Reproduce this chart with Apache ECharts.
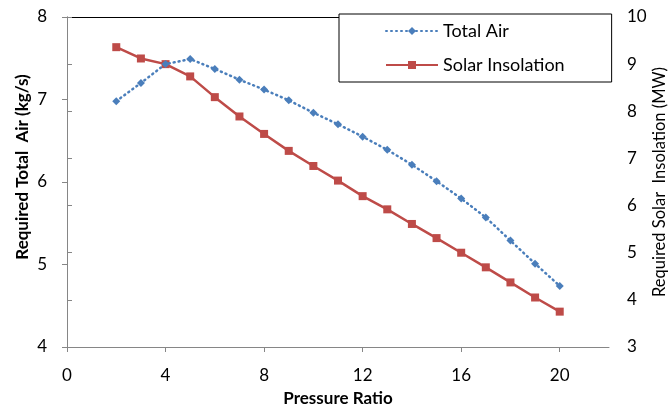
<!DOCTYPE html>
<html>
<head>
<meta charset="utf-8">
<script src="https://cdn.jsdelivr.net/npm/echarts@6/dist/echarts.min.js"></script>
<style>
html, body { margin: 0; padding: 0; background: #fff; }
#chart { width: 672px; height: 413px; }
</style>
</head>
<body>
<div id="chart"></div>
<script>
// pressure ratio on the x axis
const pressureRatio = [2, 3, 4, 5, 6, 7, 8, 9, 10, 11, 12, 13, 14, 15, 16, 17, 18, 19, 20]
// required total air, kg/s (left axis)
const totalAir = [6.98, 7.20, 7.43, 7.49, 7.37, 7.24, 7.12, 6.99, 6.84, 6.70, 6.55, 6.39, 6.21, 6.01, 5.80, 5.57, 5.29, 5.01, 4.74]
// required solar insolation, MW (right axis)
const solarInsolation = [9.36, 9.12, 9.00, 8.74, 8.30, 7.89, 7.52, 7.16, 6.84, 6.53, 6.20, 5.92, 5.61, 5.31, 5.00, 4.69, 4.37, 4.05, 3.75]

const font = 'Lato, "Open Sans", sans-serif'
const axisGray = '#868686'

const chart = echarts.init(document.getElementById('chart'))

chart.setOption({
    animation: false,
    textStyle: { fontFamily: font },
    grid: { left: 67, right: 63, top: 17, bottom: 66, outerBoundsMode: 'none', containLabel: false },
    legend: {
        orient: 'vertical',
        left: 339,
        top: 14,
        padding: [8, 47, 8, 46],
        itemGap: 16,
        itemWidth: 52,
        itemHeight: 10,
        borderColor: '#000',
        borderWidth: 1,
        backgroundColor: '#fff',
        textStyle: { fontFamily: font, fontSize: 18, color: '#000' },
        data: ['Total Air', 'Solar Insolation']
    },
    xAxis: [
        {
            type: 'value',
            min: 0,
            max: 22,
            interval: 4,
            name: 'Pressure Ratio',
            nameLocation: 'middle',
            nameGap: 43,
            nameMoveOverlap: false,
            nameTextStyle: { fontFamily: font, fontSize: 17, fontWeight: 'bold', color: '#000' },
            axisLine: { lineStyle: { color: axisGray } },
            axisTick: { show: true, inside: false, length: 5, lineStyle: { color: axisGray } },
            axisLabel: { showMaxLabel: false, margin: 20, fontSize: 17, color: '#000' },
            splitLine: { show: false }
        },
        {
            // plot area top border
            type: 'value',
            position: 'top',
            min: 0,
            max: 22,
            axisLine: { show: true, lineStyle: { color: '#000' } },
            axisTick: { show: false },
            axisLabel: { show: false },
            splitLine: { show: false }
        }
    ],
    yAxis: [
        {
            type: 'value',
            min: 4,
            max: 8,
            interval: 1,
            name: 'Required Total  Air (kg/s)',
            nameLocation: 'middle',
            nameGap: 36,
            nameMoveOverlap: false,
            nameTextStyle: { fontFamily: font, fontSize: 17, fontWeight: 'bold', color: '#000', padding: [0, 0, 0, 30] },
            axisLine: { show: true, lineStyle: { color: axisGray } },
            axisTick: { show: true, length: 5, lineStyle: { color: axisGray } },
            axisLabel: { margin: 20, fontSize: 17, color: '#000' },
            splitLine: { show: false }
        },
        {
            type: 'value',
            min: 3,
            max: 10,
            interval: 1,
            position: 'right',
            name: 'Required Solar  Insolation (MW)',
            nameLocation: 'middle',
            nameGap: 42,
            nameMoveOverlap: false,
            nameTextStyle: { fontFamily: font, fontSize: 16.5, color: '#000' },
            axisLine: { show: true, lineStyle: { color: axisGray } },
            axisTick: { show: true, length: 5, lineStyle: { color: axisGray } },
            axisLabel: { margin: 18, fontSize: 17, color: '#000' },
            splitLine: { show: false }
        }
    ],
    series: [
        {
            name: 'Total Air',
            type: 'line',
            yAxisIndex: 0,
            data: pressureRatio.map((p, i) => [p, totalAir[i]]),
            symbol: 'diamond',
            symbolSize: 8,
            itemStyle: { color: '#4a7ebb' },
            lineStyle: { color: '#4a7ebb', width: 2.5, type: [1, 4], cap: 'round' },
            z: 3
        },
        {
            name: 'Solar Insolation',
            type: 'line',
            yAxisIndex: 1,
            data: pressureRatio.map((p, i) => [p, solarInsolation[i]]),
            symbol: 'rect',
            symbolSize: 8,
            itemStyle: { color: '#be4b48' },
            lineStyle: { color: '#be4b48', width: 2.5 },
            z: 2
        }
    ]
})
</script>
</body>
</html>
